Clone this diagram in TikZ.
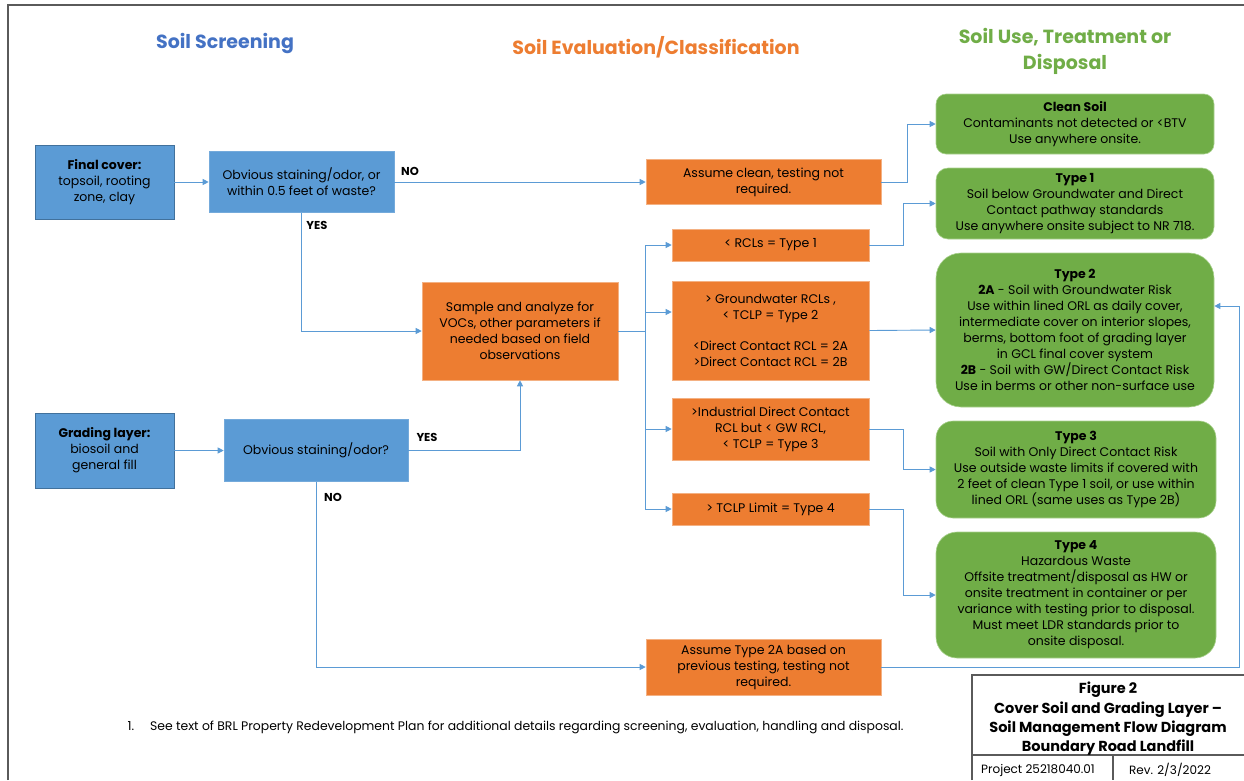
\documentclass[tikz,border=0pt]{standalone}
\usepackage{fontspec}
\setmainfont{Poppins}
\usepackage{tikz}
\usetikzlibrary{arrows.meta,calc}
\definecolor{scrblue}{HTML}{5B9BD5}
\definecolor{scrline}{HTML}{41719C}
\definecolor{evalorange}{HTML}{ED7D31}
\definecolor{evalline}{HTML}{F4B183}
\definecolor{usegreen}{HTML}{70AD47}
\definecolor{useline}{HTML}{A9D18E}
\definecolor{hdblue}{HTML}{4472C4}
\definecolor{linkblue}{HTML}{5B9BD5}
\definecolor{framegray}{HTML}{5A5A5A}

\begin{document}
\begin{tikzpicture}[x=1pt,y=-1pt,
  boxtext/.style={align=center, inner sep=0pt, text=black, font=\fontsize{12.5}{16}\selectfont},
  screenbox/.style={boxtext, fill=scrblue, draw=scrline, line width=0.8pt},
  askbox/.style={boxtext, fill=scrblue, draw=scrblue!85!white, line width=0.6pt},
  evalbox/.style={boxtext, fill=evalorange, draw=evalline, line width=0.6pt},
  disposebox/.style={boxtext, fill=usegreen, draw=useline, line width=0.6pt},
  header/.style={align=center, font=\fontsize{19}{26}\selectfont\bfseries},
  answer/.style={font=\fontsize{11.5}{12}\selectfont\bfseries},
  wire/.style={draw=linkblue, line width=0.9pt},
  link/.style={wire, -{Triangle[length=6pt,width=6pt]}},
  frame/.style={draw=framegray, line width=1.2pt}]
\useasboundingbox (0,0) rectangle (1244,780);
\draw[frame] (8,780) -- (8,5) -- (1244,5);

\node[header, text=hdblue] (hscreen) at (225,43) {Soil Screening};
\node[header, text=evalorange] (heval) at (656,47) {Soil Evaluation/Classification};
\node[header, text=usegreen] (huse) at (1065,51) {Soil Use, Treatment or\\Disposal};

\node[screenbox, minimum width=139pt, minimum height=74pt] (final) at (104.5,182) {\textbf{Final cover:}\\topsoil, rooting\\zone, clay};
\node[askbox, minimum width=185pt, minimum height=61pt] (q1) at (301.5,182) {Obvious staining/odor, or\\within 0.5 feet of waste?};
\node[screenbox, minimum width=139pt, minimum height=75pt] (grade) at (104.5,450.5) {\textbf{Grading layer:}\\biosoil and\\general fill};
\node[askbox, minimum width=184pt, minimum height=62pt] (q2) at (316,450.5) {Obvious staining/odor?};

\node[evalbox, minimum width=235pt, minimum height=45pt] (aclean) at (763.5,182) {Assume clean, testing not\\required.};
\node[evalbox, minimum width=196pt, minimum height=98pt] (sample) at (520,331) {Sample and analyze for\\VOCs, other parameters if\\needed based on field\\observations};
\node[evalbox, minimum width=197pt, minimum height=32pt] (rcl) at (770.5,245) {< RCLs = Type 1};
\node[evalbox, minimum width=197pt, minimum height=99pt] (gw) at (770.5,330.5) {> Groundwater RCLs ,\\< TCLP = Type 2\\[15pt]<Direct Contact RCL = 2A\\>Direct Contact RCL = 2B};
\node[evalbox, minimum width=197pt, minimum height=62pt] (ind) at (770.5,429) {>Industrial Direct Contact\\RCL but < GW RCL,\\< TCLP = Type 3};
\node[evalbox, minimum width=197pt, minimum height=32pt] (tclp) at (770.5,509) {> TCLP Limit = Type 4};
\node[evalbox, minimum width=235pt, minimum height=56pt] (a2a) at (763.5,667) {Assume Type 2A based on\\previous testing, testing not\\required.};

\node[disposebox, minimum width=278pt, minimum height=60pt, rounded corners=10pt] (cleansoil) at (1075,124) {\textbf{Clean Soil}\\Contaminants not detected or <BTV\\Use anywhere onsite.};
\node[disposebox, minimum width=278pt, minimum height=71pt, rounded corners=12pt] (type1) at (1075,203.5) {\textbf{Type 1}\\Soil below Groundwater and Direct\\Contact pathway standards\\Use anywhere onsite subject to NR 718.};
\node[disposebox, minimum width=278pt, minimum height=154pt, rounded corners=25pt] (type2) at (1075,330) {\textbf{Type 2}\\\textbf{2A} - Soil with Groundwater Risk\\Use within lined ORL as daily cover,\\intermediate cover on interior slopes,\\berms, bottom foot of grading layer\\in GCL final cover system\\\textbf{2B} - Soil with GW/Direct Contact Risk\\Use in berms or other non-surface use};
\node[disposebox, minimum width=280pt, minimum height=97pt, rounded corners=17pt] (type3) at (1076,469.5) {\textbf{Type 3}\\Soil with Only Direct Contact Risk\\Use outside waste limits if covered with\\2 feet of clean Type 1 soil, or use within\\lined ORL (same uses as Type 2B)};
\node[disposebox, minimum width=280pt, minimum height=126pt, rounded corners=21pt] (type4) at (1076,595) {\textbf{Type 4}\\Hazardous Waste\\Offsite treatment/disposal as HW or\\onsite treatment in container or per\\variance with testing prior to disposal.\\Must meet LDR standards prior to\\onsite disposal.};

\coordinate (fork) at (645,331);

\draw[link] (final) -- (q1);
\draw[link] (grade) -- (q2);
\draw[link] (q1) -- (aclean);
\draw[link] (q1.south) |- (sample.west);
\draw[link] (q2.east) -| (sample.south);
\draw[link] (q2.south) |- (a2a.west);
\draw[wire] (sample.east) -- (fork);
\draw[link] (fork) |- (rcl.west);
\draw[link] (fork) |- ([yshift=18.5pt]gw.west);
\draw[link] (fork) |- (ind.west);
\draw[link] (fork) |- (tclp.west);
\draw[link] (aclean.east) -- ++(26,0) |- (cleansoil.west);
\draw[link] (rcl.east) -- ++(34,0) |- (type1.west);
\draw[link] (gw.east) -- (type2.west);
\draw[link] (ind.east) -- ++(34,0) |- (type3.west);
\draw[link] (tclp.east) -- ++(34,0) |- (type4.west);
\draw[link] (a2a.east) -| ([xshift=25pt,yshift=24pt]type2.east) -- ([yshift=24pt]type2.east);

\node[answer] (no1) at (410,171) {NO};
\node[answer] (yes1) at (317,225) {YES};
\node[answer] (yes2) at (427,437) {YES};
\node[answer] (no2) at (333,497) {NO};

\node[anchor=west, font=\fontsize{12.4}{14}\selectfont] (note) at (124,727) {1.\hspace{16pt}See text of BRL Property Redevelopment Plan for additional details regarding screening, evaluation, handling and disposal.};

\draw[frame] (972,780) -- (972,675) -- (1244,675);
\draw[frame] (972,755) -- (1244,755);
\draw[frame] (1113,755) -- (1113,780);
\node[align=center, font=\fontsize{14.5}{19.3}\selectfont\bfseries] (figtitle) at (1108,719) {Figure 2\\Cover Soil and Grading Layer –\\Soil Management Flow Diagram\\Boundary Road Landfill};
\node[font=\fontsize{12}{13}\selectfont] (proj) at (1038,770) {Project 25218040.01};
\node[font=\fontsize{12}{13}\selectfont] (rev) at (1170,770) {Rev. 2/3/2022};
\end{tikzpicture}
\end{document}
